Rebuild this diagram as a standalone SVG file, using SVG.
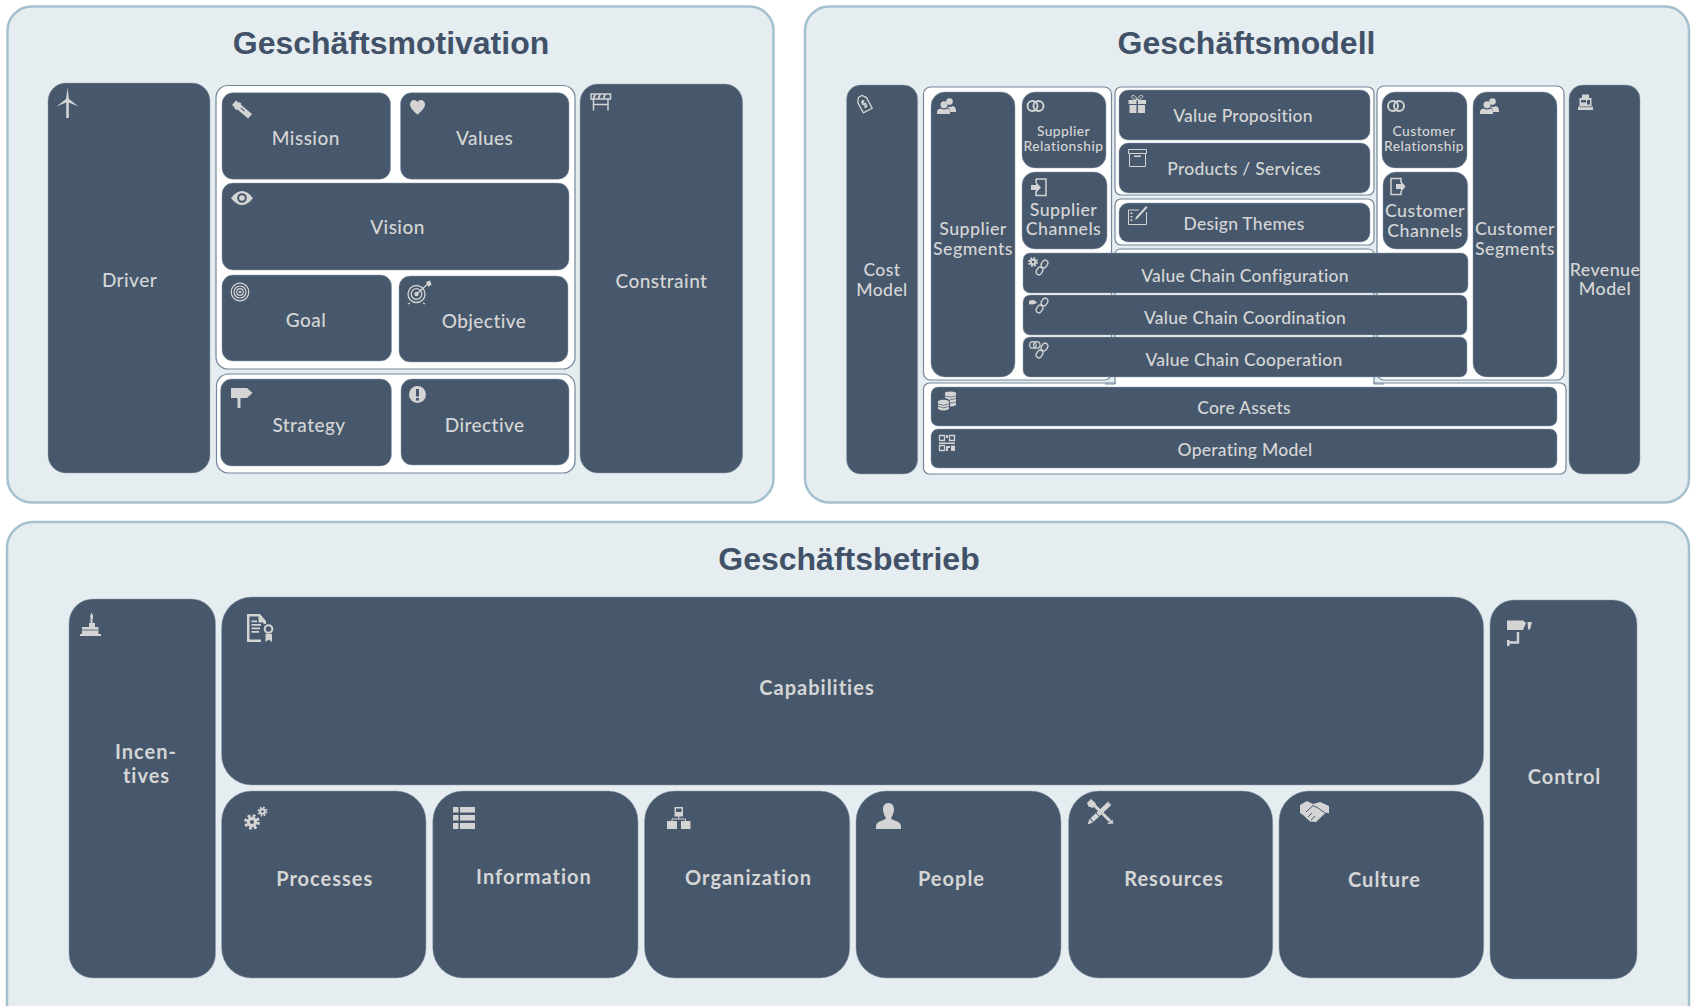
<svg xmlns="http://www.w3.org/2000/svg" width="1692" height="1006" viewBox="0 0 1692 1006">
<style>
.panel{fill:#e5edf0;stroke:#a5c0cf;stroke-width:2.5}
.grp{fill:#fff;stroke:#75879a;stroke-width:1.2}
.n{fill:#47586c;stroke:#8d9dad;stroke-width:.5}
.title{font:bold 32px "Liberation Sans",Arial,sans-serif;fill:#415268;text-anchor:middle}
text.t{font-family:Lato,"Noto Sans",sans-serif;font-size:19px;font-weight:500;fill:#d6d6d6;text-anchor:middle;letter-spacing:.45px}
text.m{font-size:17.8px}
text.s{font-size:13.8px}
text.v{font-size:17.5px;letter-spacing:.25px}
text.b{font-weight:700;font-size:20px;letter-spacing:1px}
.i{fill:#d4d4d4}
.o{fill:none;stroke:#d4d4d4;stroke-width:1.5}
.d{fill:#47586c}
.l{fill:none;stroke:#47586c;stroke-width:1}
</style>
<defs>
<g id="ic-people"><circle class="i" cx="12.5" cy="3.6" r="3.3"/><path class="i" d="M9 8Q12.5 10 16 8Q19 9 19 13V14H13Q13 10 9 8Z"/><circle class="i" cx="7" cy="6.8" r="3.5"/><path class="i" d="M0 16V14Q0 11.500 3.500 10.600Q7 12.500 10.500 10.600Q13 11.500 13 14V16Z"/></g>
<g id="ic-rings"><circle class="o" style="stroke-width:1.900" cx="6" cy="6" r="5"/><circle class="o" style="stroke-width:1.900" cx="12" cy="6" r="5"/></g>
<g id="ic-chain"><rect class="o" style="stroke-width:1.400" x="-4" y="-2.800" width="8" height="5.600" rx="2.800" transform="translate(13.500,4) rotate(-55)"/><rect class="o" style="stroke-width:1.400" x="-4" y="-2.800" width="8" height="5.600" rx="2.800" transform="translate(8.500,11) rotate(-55)"/></g>
<g id="ic-gear"><circle class="o" style="stroke-width:2.400" stroke-dasharray="2 1.600" cx="0" cy="0" r="4.600"/><circle class="i" cx="0" cy="0" r="3.800"/><circle class="d" cx="0" cy="0" r="1.500"/></g>
</defs>

<g id="panel-motivation">
<rect class="panel" x="7.500" y="6.500" width="766" height="496" rx="24"/>
<text class="title" x="391" y="54">Geschäftsmotivation</text>
</g>
<g id="panel-model">
<rect class="panel" x="805" y="6.500" width="884" height="496" rx="24"/>
<text class="title" x="1246.500" y="54">Geschäftsmodell</text>
</g>
<g id="panel-operations">
<rect class="panel" x="7" y="522" width="1682" height="520" rx="26"/>
<text class="title" x="849" y="570">Geschäftsbetrieb</text>
</g>

<g id="group-motivation-1"><rect class="grp" x="216" y="85.500" width="359" height="283.500" rx="12"/></g>
<g id="group-motivation-2"><rect class="grp" x="216.500" y="374" width="358.500" height="99" rx="12"/></g>

<g id="driver"><rect class="n" x="48" y="83" width="162" height="390" rx="18"/>
<text class="t" x="129.500" y="286.500">Driver</text>
<path class="i" d="M67.500 87.500L69 99L78.500 106.500L68.800 102.500V118H66.200V102.500L56.500 106.500L66 99Z"/></g>
<g id="mission"><rect class="n" x="222" y="92.700" width="168.500" height="86.500" rx="11"/>
<text class="t" x="305.800" y="145">Mission</text>
<g transform="translate(242,109.500) rotate(40)"><rect class="i" x="-10.500" y="-3" width="21" height="6"/><rect class="i" x="-7" y="-4" width="3" height="8"/><rect class="d" x="-2" y="-1" width="5" height="1"/></g></g>
<g id="values"><rect class="n" x="400.500" y="92.700" width="168.500" height="86.500" rx="11"/>
<text class="t" x="484.600" y="145">Values</text>
<path class="i" d="M417.500 114.500C412 110 410 107 410 104.500C410 101.500 412 100 414 100C415.500 100 416.800 100.700 417.500 102C418.200 100.700 419.500 100 421 100C423 100 425 101.500 425 104.500C425 107 423 110 417.500 114.500Z"/></g>
<g id="vision"><rect class="n" x="222" y="183" width="347" height="87" rx="11"/>
<text class="t" x="397.500" y="234">Vision</text>
<path class="i" d="M231 198.200Q242 184 253 198.200Q242 212 231 198.200Z"/><circle class="d" cx="242" cy="198" r="4.800"/><circle class="i" cx="242" cy="198" r="2.800"/></g>
<g id="goal"><rect class="n" x="222" y="275" width="169.500" height="86" rx="11"/>
<text class="t" x="306" y="327">Goal</text>
<g class="o" style="stroke-width:1.200"><circle cx="240" cy="292" r="8.800"/><circle cx="240" cy="292" r="6"/><circle cx="240" cy="292" r="3.300"/></g><circle class="i" cx="240" cy="292" r="1.300"/></g>
<g id="objective"><rect class="n" x="399" y="276" width="169" height="86" rx="11"/>
<text class="t" x="484" y="328">Objective</text>
<g class="o" style="stroke-width:1.300"><circle cx="416.500" cy="294" r="8.500"/><circle cx="416.500" cy="294" r="5.300"/><path d="M410 303L408 304M423 303L425 304M416.500 294L430 282"/></g><circle class="i" cx="416.500" cy="294" r="2.200"/><path class="i" d="M426 282L430 280.500L431.500 284.500L428.500 287Z"/></g>
<g id="strategy"><rect class="n" x="220.600" y="379" width="170.800" height="87" rx="11"/>
<text class="t" x="309" y="432">Strategy</text>
<path class="i" d="M231 388H247L252.500 393L247 398H240.500V408H237.500V398H231Z"/></g>
<g id="directive"><rect class="n" x="401" y="379" width="168" height="86" rx="11"/>
<text class="t" x="484.600" y="432">Directive</text>
<circle class="i" cx="417.500" cy="394.500" r="8.500"/><rect class="d" x="416" y="389" width="3" height="7.500"/><rect class="d" x="416" y="398" width="3" height="2.500"/></g>
<g id="constraint"><rect class="n" x="580" y="84" width="162.600" height="389" rx="18"/>
<text class="t" x="661.500" y="288">Constraint</text>
<path class="o" d="M591 94H610.500V99H591ZM593.500 99V110.500M608 99V110.500M593 104.500H608"/><path class="i" d="M594 94.500L592.500 98.500H594.500L596 94.500ZM599 94.500L597.500 98.500H599.500L601 94.500ZM604 94.500L602.500 98.500H604.500L606 94.500Z"/></g>

<g id="cost-model"><rect class="n" x="846.600" y="85" width="71" height="389" rx="14"/>
<text class="t m" x="882" y="275.500" style="font-size:17.500px">Cost</text><text class="t m" x="882" y="295.500" style="font-size:17.500px">Model</text>
<g transform="translate(864,103.500) rotate(-28)"><path class="o" style="stroke-width:1.300" d="M-5 -4L-2 -8H2L5 -4V8H-5Z"/><path class="o" style="stroke-width:1.200" d="M1.800 -2.500H-1.500V.5H1.500V3.500H-1.800M0 -4V5"/></g></g>

<g id="group-core"><rect class="grp" x="923.500" y="383" width="642.500" height="91" rx="6"/></g>
<g id="group-value-chain"><rect x="1116" y="250" width="257.500" height="136" fill="#fff"/>
<path class="grp" style="fill:none" d="M1115 384V255Q1115 249 1121 249H1368Q1374 249 1374 255V384"/>
<path class="grp" style="fill:none" d="M1105 384H1115M1374 384H1384"/></g>
<g id="group-left"><rect class="grp" x="923.500" y="87" width="188" height="293" rx="7"/></g>
<g id="group-right"><rect class="grp" x="1377" y="86" width="187" height="294" rx="7"/></g>
<g id="group-value"><rect class="grp" x="1115" y="87" width="259" height="108" rx="6"/></g>
<g id="group-design"><rect class="grp" x="1115" y="199" width="259" height="46" rx="6"/></g>

<g id="supplier-segments"><rect class="n" x="931" y="92" width="84" height="285" rx="14"/>
<text class="t m" x="973" y="235">Supplier</text><text class="t m" x="973" y="255">Segments</text>
<use href="#ic-people" x="937" y="98"/></g>
<g id="supplier-relationship"><rect class="n" x="1022" y="92" width="84" height="76" rx="13"/>
<text class="t s" x="1063.500" y="135.500">Supplier</text><text class="t s" x="1063.500" y="150.500">Relationship</text>
<use href="#ic-rings" x="1026.500" y="100"/></g>
<g id="supplier-channels"><rect class="n" x="1022" y="172" width="85" height="77" rx="13"/>
<text class="t m" x="1063.500" y="216">Supplier</text><text class="t m" x="1063.500" y="235">Channels</text>
<path class="o" d="M1036 179H1046V195.500H1036V191M1036 179V183"/><path class="i" d="M1031 185H1036V182L1041 187.500L1036 193V190H1031Z"/></g>
<g id="customer-relationship"><rect class="n" x="1382" y="92" width="85" height="76" rx="13"/>
<text class="t s" x="1424" y="135.500">Customer</text><text class="t s" x="1424" y="150.500">Relationship</text>
<use href="#ic-rings" x="1387" y="100"/></g>
<g id="customer-channels"><rect class="n" x="1383" y="172" width="84.700" height="77" rx="13"/>
<text class="t m" x="1425" y="217">Customer</text><text class="t m" x="1425" y="237">Channels</text>
<path class="o" d="M1401 183V178.500H1391V194.500H1401V191"/><path class="i" d="M1396 184H1401V181L1405.500 186.500L1401 192V189H1396Z"/></g>
<g id="customer-segments"><rect class="n" x="1473" y="92" width="84" height="285" rx="14"/>
<text class="t m" x="1515" y="235">Customer</text><text class="t m" x="1515" y="255">Segments</text>
<use href="#ic-people" x="1480" y="98"/></g>
<g id="revenue-model"><rect class="n" x="1569" y="85" width="71" height="389" rx="14"/>
<text class="t m" x="1605" y="275.500">Revenue</text><text class="t m" x="1605" y="295">Model</text>
<path class="i" d="M1582 94.500H1589V98H1591.500V106H1593V110H1578V106H1579.500V98H1582Z"/><rect class="d" x="1581" y="100" width="5" height="2.500"/><rect class="d" x="1587" y="100" width="3" height="4.500"/><rect class="d" x="1578" y="106.500" width="15" height=".7"/></g>

<g id="value-proposition"><rect class="n" x="1119" y="90" width="251" height="50" rx="9"/>
<text class="t v" x="1243" y="121.700">Value Proposition</text>
<path class="i" d="M1128.500 100H1136.500V104H1128.500ZM1138 100H1146V104H1138ZM1129.500 105H1136.500V113H1129.500ZM1138 105H1145V113H1138Z"/><path class="o" style="stroke-width:1" d="M1137 100C1131 99 1130 95.500 1133 95.500C1135 95.500 1137 98 1137 100C1137 98 1139.500 95.500 1141.500 95.500C1144.500 95.500 1143 99 1137 100Z"/></g>
<g id="products-services"><rect class="n" x="1119" y="143" width="251" height="50" rx="9"/>
<text class="t v" x="1244" y="174.500">Products / Services</text>
<path class="o" style="stroke-width:1" d="M1128.500 149.500H1146.500V153.500H1128.500ZM1129.500 153.500V166.500H1145.500V153.500"/><rect class="i" x="1134" y="155.500" width="7" height="1.500"/></g>
<g id="design-themes"><rect class="n" x="1119" y="203" width="251" height="39" rx="9"/>
<text class="t v" x="1244" y="229.500">Design Themes</text>
<path class="o" style="stroke-width:1" d="M1139 210H1128.500V224.500H1146.500V212"/><path class="i" d="M1146 206L1147.500 207.500L1137.500 218.500L1135 220L1136 217ZM1130.500 212.500H1132.500V214H1130.500ZM1130.500 216H1132.500V217.500H1130.500ZM1130.500 219.500H1132.500V221H1130.500Z"/></g>
<g id="value-chain-configuration"><rect class="n" x="1023" y="253" width="445" height="40" rx="7"/>
<text class="t v" x="1245" y="281.500">Value Chain Configuration</text>
<use href="#ic-gear" transform="translate(1033,262) scale(.85)"/><use href="#ic-chain" x="1031" y="260"/></g>
<g id="value-chain-coordination"><rect class="n" x="1023" y="295" width="444" height="40" rx="7"/>
<text class="t v" x="1245" y="323.500">Value Chain Coordination</text>
<path class="i" d="M1029 301Q1032 299.500 1035 300.500L1037 303L1033 304.500Q1031 304 1029 304.500Z"/><use href="#ic-chain" x="1031" y="298"/></g>
<g id="value-chain-cooperation"><rect class="n" x="1023" y="337" width="444" height="40" rx="7"/>
<text class="t v" x="1244" y="365.500">Value Chain Cooperation</text>
<use href="#ic-rings" transform="translate(1029,341) scale(.65)"/><use href="#ic-chain" x="1031" y="343"/></g>
<g id="core-assets"><rect class="n" x="931" y="387" width="626" height="39" rx="7"/>
<text class="t v" x="1244" y="414">Core Assets</text>
<path class="i" d="M945 395V392.500Q950.500 390.500 956 392.500V405Q954 406.500 950 406.500V400.500Q948 398 945 398Z"/><path class="i" d="M938 401Q943.500 398.500 949 401V409Q943.500 412 938 409Z"/><path class="l" style="stroke-width:.7" d="M938 404Q943.500 406.500 949 404M938 406.500Q943.500 409 949 406.500M945 396Q950.500 398 956 396M950 399.500Q953 399.500 956 398.500M950 403Q953 403 956 402"/></g>
<g id="operating-model"><rect class="n" x="931" y="429" width="626" height="39" rx="7"/>
<text class="t v" x="1245" y="455.500">Operating Model</text>
<path class="o" style="stroke-width:1.300" d="M939.500 435.500H944.500V440.500H939.500ZM949.500 435.500H954.500V440.500H949.500ZM939.500 445.500H944.500V450.500H939.500Z"/><path class="i" d="M946 435H948V438H946ZM939 442.500H955V444H939ZM946 446H950V448H948V451H946ZM951 445.500H955V451H951Z"/></g>

<g id="incentives"><rect class="n" x="69" y="599" width="146.500" height="379" rx="24"/>
<text class="t b" x="146" y="759">Incen-</text><text class="t b" x="146.500" y="782.500">tives</text>
<path class="i" d="M91.500 612.500Q94 616 92.500 619V623H95V627H98.500V634H101V636H80V634H82V627H89V623H90.500V619Q89.500 616 91.500 612.500Z"/><path class="l" style="stroke-width:.8" d="M82 630H98.500"/></g>
<g id="capabilities"><rect class="n" x="221.600" y="597" width="1262" height="188" rx="30"/>
<text class="t b" x="817" y="695">Capabilities</text>
<path class="i" d="M247 614H260L266 621V624H263.500V622.500H258.500V616.500H249.500V639.500H261V642H247Z"/><path class="i" d="M251.500 620.500H257V622.200H251.500ZM251.500 624H261V625.700H251.500ZM251.500 627.500H260V629.200H251.500ZM251.500 631H259V632.700H251.500Z"/><circle class="o" style="stroke-width:2" cx="268.500" cy="629" r="3.800"/><path class="i" d="M265.500 634H272V642L268.800 639.500L265.500 642Z"/></g>
<g id="processes"><rect class="n" x="221.600" y="791" width="204.400" height="187" rx="30"/>
<text class="t b" x="324.700" y="886">Processes</text>
<use href="#ic-gear" transform="translate(252,822) scale(1.350)"/><use href="#ic-gear" transform="translate(262.500,811.500) scale(.85)"/></g>
<g id="information"><rect class="n" x="432.800" y="791" width="205.200" height="187" rx="30"/>
<text class="t b" x="534" y="884">Information</text>
<path class="i" d="M453 807H458.500V812.500H453ZM460 807H475V812.500H460ZM453 815H458.500V820.500H453ZM460 815H475V820.500H460ZM453 823H458.500V829H453ZM460 823H475V829H460Z"/></g>
<g id="organization"><rect class="n" x="644.500" y="791" width="205.200" height="187" rx="30"/>
<text class="t b" x="748.500" y="884.500">Organization</text>
<path class="i" d="M674.500 807H683V816.500H674.500ZM667 821H677V829H667ZM681 821H690.500V829H681Z"/><path class="o" style="stroke-width:1" d="M678.700 816V819H672V821M678.700 819H685.500V821"/><rect class="d" x="676" y="808.500" width="5.500" height="3.500"/></g>
<g id="people"><rect class="n" x="856" y="791" width="205" height="187" rx="30"/>
<text class="t b" x="951.500" y="885.700">People</text>
<path class="i" d="M888.500 803C892.500 803 894 806 894 809.500C894 813 892 816.500 891 818C892 821 900.500 820.500 901 826V829H876V826C876.500 820.500 885 821 886 818C885 816.500 883 813 883 809.500C883 806 884.500 803 888.500 803Z"/></g>
<g id="resources"><rect class="n" x="1068.600" y="791" width="204.100" height="187" rx="30"/>
<text class="t b" x="1174" y="886">Resources</text>
<path class="o" style="stroke-width:3" d="M1092 803L1110 821"/><path class="i" d="M1087 803L1091 799L1096 803.500L1093 808L1088.500 806.500ZM1107 824L1112.500 819.500L1113.500 823.500Z"/><path class="o" style="stroke-width:4.500" d="M1110 803L1092 820"/><path class="l" d="M1108 801.500L1111.500 805M1095 812L1100 817"/><path class="i" d="M1089.500 819L1093 822.500L1087.500 824.500Z"/></g>
<g id="culture"><rect class="n" x="1279" y="791" width="204.700" height="187" rx="30"/>
<text class="t b" x="1384.500" y="886.700">Culture</text>
<path class="i" d="M1300 805L1307 801L1313 804L1320 802L1329 806V813.500L1326 812.500L1316 822L1310 821.500L1303 815L1300 813Z"/><path class="l" d="M1306 812L1313 805.500L1318 808L1325 813M1308 817L1312 813M1311 820L1315 816"/></g>
<g id="control"><rect class="n" x="1490" y="600" width="147" height="379" rx="24"/>
<text class="t b" x="1564.500" y="783.500">Control</text>
<path class="i" d="M1507 620.500H1523L1526 623L1523 630H1507ZM1527.500 622H1532L1530 629.500H1528Z"/><path class="o" style="stroke-width:2.400" d="M1518 632V642.500H1509"/><rect class="i" x="1507" y="640" width="2.500" height="6"/></g>
</svg>
